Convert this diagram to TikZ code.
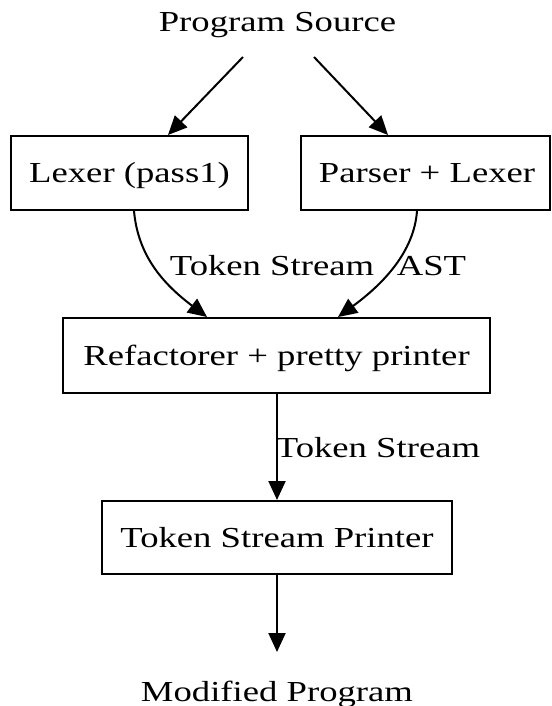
\documentclass[tikz,border=0pt]{standalone}
\usepackage{fontspec}
\setmainfont[FakeStretch=1.265]{Liberation Serif}
\usetikzlibrary{arrows.meta}

\begin{document}
\begin{tikzpicture}[x=1pt, y=-1pt,
  every node/.style={font=\fontsize{29}{34}\selectfont, inner sep=0pt},
  stage/.style={draw, line width=2pt, rectangle, text height=19.2pt, text depth=0pt},
  caption/.style={anchor=base},
  flow/.style={line width=2pt, -{Triangle[length=19pt, width=17pt]}}]

  % page area
  \fill[white] (0,0) rectangle (551,706);
  \useasboundingbox (0,0) rectangle (551,706);

  % source and sink labels
  \node[caption] (src) at (277.5,32) {Program Source};
  \node[caption] (mod) at (277,701) {Modified Program};

  % processing stages
  \node[stage, minimum width=237pt, minimum height=74pt] (lex) at (129.5,173) {Lexer (pass1)};
  \node[stage, minimum width=249pt, minimum height=74pt] (par) at (425.5,173) {\hspace*{3pt}Parser + Lexer};
  \node[stage, minimum width=427pt, minimum height=75pt] (ref) at (276.5,355.5) {Refactorer + pretty printer};
  \node[stage, minimum width=350pt, minimum height=73pt] (tsp) at (277,537.5) {Token Stream Printer};

  % edge labels
  \node[caption] (l1) at (272,275) {Token Stream};
  \node[caption] (l2) at (431.5,275) {AST};
  \node[caption] (l3) at (378,457) {Token Stream};

  % free ends of the input arrows
  \coordinate (s1) at (243,57);
  \coordinate (s2) at (314,57);
  \coordinate (s3) at (277,652);

  % connectors
  \draw[flow] (s1) -- ([xshift=38.5pt]lex.north);
  \draw[flow] (s2) -- ([xshift=-37.5pt]par.north);
  \draw[flow] ([xshift=4.5pt]lex.south) .. controls (138,255) and (162,283) .. ([xshift=-69.5pt]ref.north);
  \draw[flow] ([xshift=-8.5pt]par.south) .. controls (414,252) and (383,284) .. ([xshift=61.5pt]ref.north);
  \draw[flow] ([xshift=0.5pt]ref.south) -- (tsp.north);
  \draw[flow] (tsp.south) -- (s3);
\end{tikzpicture}
\end{document}
